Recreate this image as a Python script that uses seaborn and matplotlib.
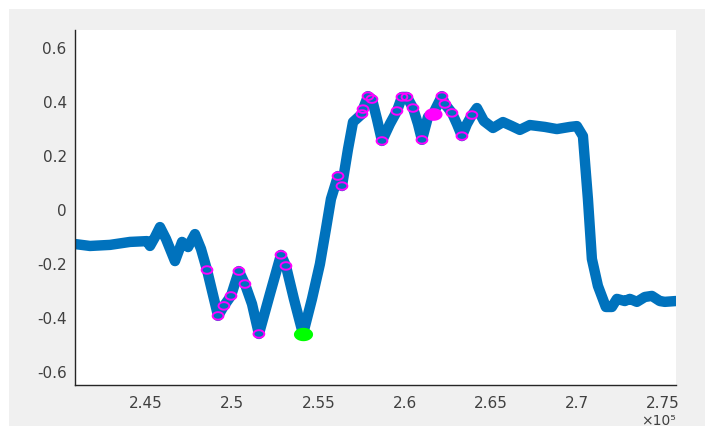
import numpy as np
import matplotlib
matplotlib.use('Agg')
import matplotlib.pyplot as plt
from matplotlib.path import Path
from matplotlib.patches import Rectangle
from matplotlib.ticker import FuncFormatter
import seaborn as sns

# signal trace
sig_x = [240900, 241750, 242910, 244070, 245060, 245230, 245520, 245810, 246160, 246680,
         247090, 247440, 247840, 248190, 248540, 249180, 249520, 249930, 250390, 250740,
         251150, 251550, 252190, 252830, 253120, 253580, 254110, 254630, 255090, 255440,
         255730, 256140, 256370, 256720, 257010, 257530, 257590, 257880, 258110, 258400,
         258690, 259150, 259560, 259850, 260140, 260490, 260780, 261010, 261360, 261650,
         261940, 262170, 262340, 262750, 263040, 263330, 263620, 263910, 264200, 264600,
         265130, 265710, 266230, 266690, 267270, 268140, 268840, 269590, 270000, 270350,
         270640, 270870, 271220, 271680, 272030, 272320, 272780, 273070, 273480, 273940,
         274350, 274810, 275100, 275740]
sig_y = [-0.130, -0.137, -0.133, -0.122, -0.119, -0.137, -0.104, -0.067, -0.111, -0.193,
         -0.122, -0.141, -0.093, -0.148, -0.226, -0.396, -0.359, -0.322, -0.230, -0.278,
         -0.352, -0.463, -0.315, -0.170, -0.211, -0.333, -0.463, -0.333, -0.204, -0.074,
         0.037, 0.122, 0.085, 0.222, 0.322, 0.352, 0.370, 0.418, 0.407, 0.333,
         0.252, 0.315, 0.363, 0.415, 0.415, 0.374, 0.315, 0.256, 0.341, 0.352,
         0.389, 0.418, 0.389, 0.356, 0.315, 0.270, 0.315, 0.348, 0.374, 0.326,
         0.300, 0.322, 0.307, 0.293, 0.311, 0.304, 0.296, 0.304, 0.307, 0.270,
         0.037, -0.185, -0.285, -0.363, -0.363, -0.333, -0.341, -0.333, -0.344, -0.326,
         -0.322, -0.341, -0.344, -0.341]

# detected extrema (magenta rings)
ext_x = [248540, 249180, 249520, 249930, 250390, 250740, 251550, 252830, 253120,
         256140, 256370, 257530, 257590, 257880, 258110, 258690, 259560, 259850,
         260140, 260490, 261010, 262170, 262340, 262750, 263330, 263910]
ext_y = [-0.226, -0.396, -0.359, -0.322, -0.230, -0.278, -0.463, -0.170, -0.211,
         0.122, 0.085, 0.352, 0.370, 0.418, 0.407, 0.252, 0.363, 0.415,
         0.415, 0.374, 0.256, 0.418, 0.389, 0.356, 0.270, 0.348]

# highlighted points
sel_x = [261650]
sel_y = [0.352]
min_x = [254110]
min_y = [-0.463]

blue = '#0072BD'
txt = '#404040'

# slightly wide ellipse marker (the reference is stretched horizontally)
t = np.linspace(0, 2 * np.pi, 40)
ellipse = Path(np.column_stack([np.cos(t), 0.7 * np.sin(t)]), closed=True)

sns.set_style('white')
plt.rcParams['font.family'] = ['DejaVu Sans']

fig = plt.figure(figsize=(7.05, 4.27), dpi=100)
fig.patch.set_facecolor('white')
fig.patches.append(Rectangle((9 / 705, 0), 1, 1 - 10 / 427, transform=fig.transFigure,
                             facecolor='#f0f0f0', edgecolor='none', zorder=-10))
ax = fig.add_axes([75 / 705, 1 - 386 / 427, 601 / 705, 355 / 427])
ax.set_facecolor('white')

sns.lineplot(x=sig_x, y=sig_y, sort=False, estimator=None, color=blue,
             linewidth=7.5, ax=ax, zorder=2)
sns.scatterplot(x=ext_x, y=ext_y, marker=ellipse, s=60, facecolor='none',
                edgecolor='#ff00ff', linewidth=1.4, ax=ax, zorder=3)
sns.scatterplot(x=sel_x, y=sel_y, marker=ellipse, s=170, color='#ff00ff',
                edgecolor='#ff00ff', linewidth=0, ax=ax, zorder=4)
sns.scatterplot(x=min_x, y=min_y, marker=ellipse, s=190, color='#00ff00',
                edgecolor='#00ff00', linewidth=0, ax=ax, zorder=4)

ax.set_xlim(240880, 275750)
ax.set_ylim(-0.652, 0.663)
ax.set_xticks([245000, 250000, 255000, 260000, 265000, 270000, 275000])
ax.set_yticks([-0.6, -0.4, -0.2, 0, 0.2, 0.4, 0.6])
ax.xaxis.set_major_formatter(FuncFormatter(lambda v, p: '%g' % (v / 1e5)))
ax.yaxis.set_major_formatter(FuncFormatter(lambda v, p: '%g' % round(v, 2)))

for s in ['top', 'right']:
    ax.spines[s].set_visible(False)
for s in ['left', 'bottom']:
    ax.spines[s].set_color('#262626')
    ax.spines[s].set_linewidth(1.0)
ax.tick_params(direction='in', length=4, width=1, colors='#262626',
               labelcolor=txt, labelsize=11, pad=6)
ax.tick_params(axis='x', pad=7)

ax.annotate('\u00d710\u2075', xy=(1, 0), xycoords='axes fraction',
            xytext=(0, -20), textcoords='offset points', ha='right', va='top',
            color=txt, fontsize=10)

fig.savefig('out.png', dpi=100)
